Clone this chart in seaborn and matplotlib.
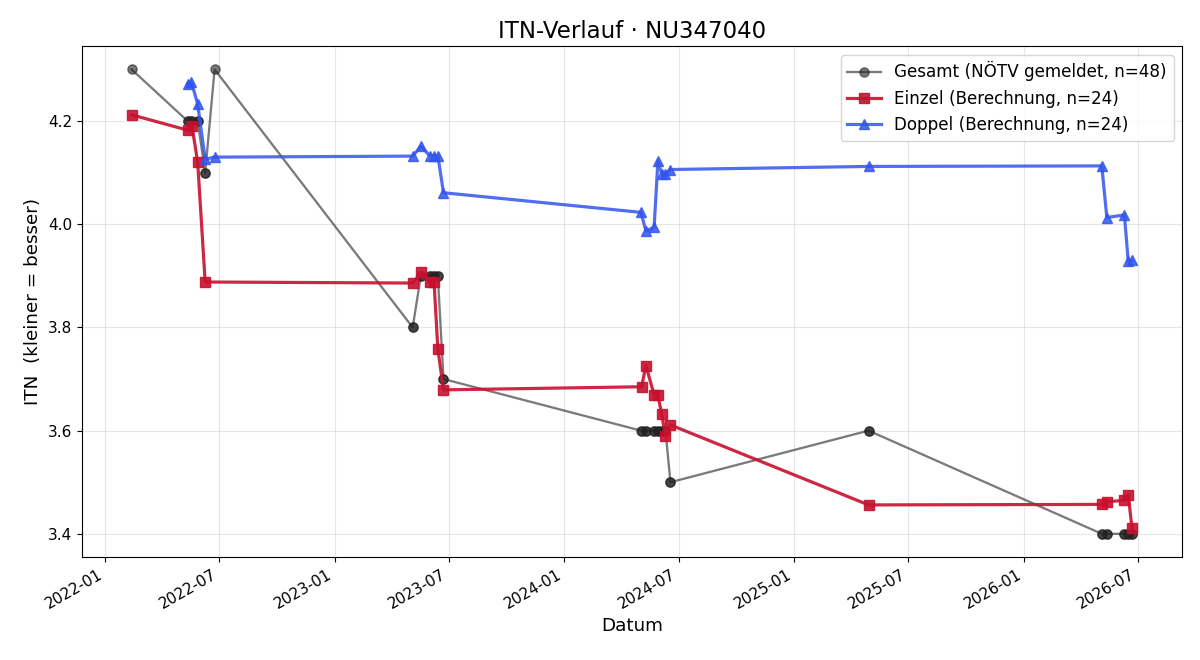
import pandas as pd
import matplotlib
matplotlib.use("Agg")
import matplotlib.pyplot as plt
import matplotlib.dates as mdates
import seaborn as sns

# Einzel (single) ITN calculation
einzel_dates = [
    "2022-02-12", "2022-05-13", "2022-05-19", "2022-05-28", "2022-06-09",
    "2023-05-05", "2023-05-19", "2023-06-01", "2023-06-08", "2023-06-14", "2023-06-23",
    "2024-05-03", "2024-05-10", "2024-05-23", "2024-05-29", "2024-06-04", "2024-06-10", "2024-06-18",
    "2025-04-29",
    "2026-05-05", "2026-05-13", "2026-06-10", "2026-06-16", "2026-06-22",
]
einzel_itn = [
    4.212, 4.182, 4.190, 4.121, 3.888,
    3.886, 3.907, 3.888, 3.888, 3.759, 3.679,
    3.685, 3.726, 3.669, 3.669, 3.632, 3.590, 3.611,
    3.456,
    3.457, 3.462, 3.465, 3.476, 3.411,
]

# Doppel (double) ITN calculation
doppel_dates = [
    "2022-05-12", "2022-05-18", "2022-05-28", "2022-06-09", "2022-06-24",
    "2023-05-05", "2023-05-18", "2023-06-01", "2023-06-08", "2023-06-14", "2023-06-23",
    "2024-05-02", "2024-05-10", "2024-05-23", "2024-05-29", "2024-06-04", "2024-06-10", "2024-06-18",
    "2025-04-29",
    "2026-05-05", "2026-05-13", "2026-06-10", "2026-06-16", "2026-06-22",
]
doppel_itn = [
    4.272, 4.276, 4.233, 4.126, 4.130,
    4.132, 4.151, 4.133, 4.133, 4.133, 4.061,
    4.023, 3.987, 3.994, 4.122, 4.098, 4.098, 4.106,
    4.112,
    4.113, 4.013, 4.018, 3.928, 3.930,
]

# Gesamt (reported by NÖTV), one entry per match
gesamt_dates = [
    "2022-02-12", "2022-05-12", "2022-05-13", "2022-05-18", "2022-05-19",
    "2022-05-28", "2022-05-28", "2022-06-09", "2022-06-09", "2022-06-24",
    "2023-05-05", "2023-05-05", "2023-05-18", "2023-05-19", "2023-06-01", "2023-06-01",
    "2023-06-08", "2023-06-08", "2023-06-14", "2023-06-14", "2023-06-23", "2023-06-23",
    "2024-05-02", "2024-05-03", "2024-05-10", "2024-05-10", "2024-05-23", "2024-05-23",
    "2024-05-29", "2024-05-29", "2024-06-04", "2024-06-04", "2024-06-10", "2024-06-10",
    "2024-06-18", "2024-06-18",
    "2025-04-29", "2025-04-29",
    "2026-05-05", "2026-05-05", "2026-05-13", "2026-05-13", "2026-06-10", "2026-06-10",
    "2026-06-16", "2026-06-16", "2026-06-22", "2026-06-22",
]
gesamt_itn = [
    4.3, 4.2, 4.2, 4.2, 4.2, 4.2, 4.2, 4.1, 4.1, 4.3,
    3.8, 3.8, 3.9, 3.9, 3.9, 3.9, 3.9, 3.9, 3.9, 3.9, 3.7, 3.7,
    3.6, 3.6, 3.6, 3.6, 3.6, 3.6, 3.6, 3.6, 3.6, 3.6, 3.6, 3.6, 3.5, 3.5,
    3.6, 3.6,
    3.4, 3.4, 3.4, 3.4, 3.4, 3.4, 3.4, 3.4, 3.4, 3.4,
]

fig, ax = plt.subplots(figsize=(12, 6.6), dpi=100)

series = [
    (gesamt_dates, gesamt_itn, "Gesamt (NÖTV gemeldet, n={})", "o", 6.6, 1.65, "#222222", 0.6),
    (einzel_dates, einzel_itn, "Einzel (Berechnung, n={})", "s", 7.4, 2.3, "#c8102e", 0.9),
    (doppel_dates, doppel_itn, "Doppel (Berechnung, n={})", "^", 7.4, 2.3, "#3355ee", 0.85),
]
for dates, vals, label, mk, ms, lw, col, a in series:
    sns.lineplot(
        x=pd.to_datetime(dates), y=vals, estimator=None,
        marker=mk, markersize=ms, markeredgewidth=1, markeredgecolor=col,
        linewidth=lw, color=col, alpha=a, label=label.format(len(vals)), ax=ax,
    )

ax.set_title("ITN-Verlauf · NU347040", fontsize=16.5)
ax.set_xlabel("Datum", fontsize=13.2)
ax.set_ylabel("ITN  (kleiner = besser)", fontsize=13.2)
ax.grid(True, alpha=0.3)
ax.tick_params(labelsize=11)

ax.xaxis.set_major_locator(mdates.MonthLocator(bymonth=[1, 7]))
ax.xaxis.set_major_formatter(mdates.DateFormatter("%Y-%m"))
for lbl in ax.get_xticklabels():
    lbl.set_rotation(30)
    lbl.set_ha("right")

ax.legend(loc="upper right", fontsize=12.1)

fig.subplots_adjust(left=0.068, right=0.985, top=0.93, bottom=0.156)
fig.savefig("out.png", dpi=100)
